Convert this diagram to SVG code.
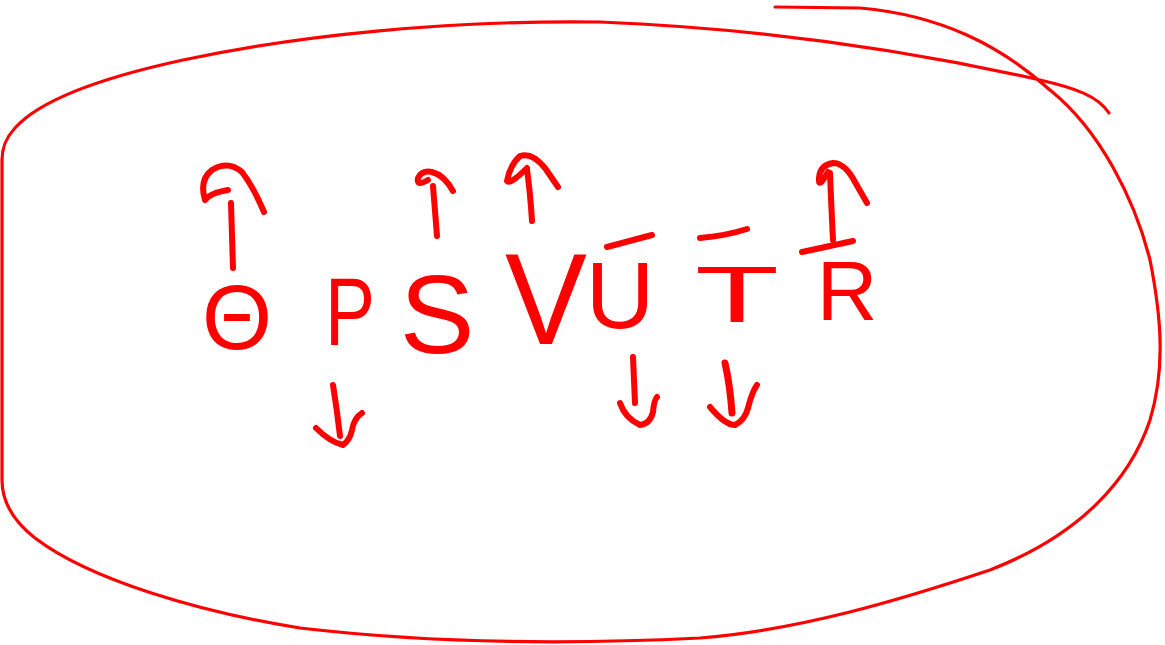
<svg xmlns="http://www.w3.org/2000/svg" width="1165" height="645" viewBox="0 0 1165 645">
  <style>
    .ink { fill: none; stroke: #ff0000; stroke-linecap: round; stroke-linejoin: round; }
    .loop { stroke-width: 3.2; }
    .pen { stroke-width: 6; }
    .letter { fill: #ff0000; font-family: "Liberation Sans", "DejaVu Sans", sans-serif; text-anchor: middle; }
  </style>
  <rect width="1165" height="645" fill="#ffffff"/>

  <!-- enclosing loop -->
  <g id="outline">
    <path class="ink loop" d="M1109,113 C1098,96 1075,88 1040,80 C960,62 800,30 600,22 C450,20 300,35 183,60 C100,78 40,100 15,128 C4,140 2,150 2,160 L2,480 C2,500 12,520 35,538 C90,580 200,612 300,628 C420,642 560,645 700,638 C800,630 900,600 990,570 C1080,535 1130,480 1150,420 C1165,370 1162,320 1150,260 C1135,200 1100,130 1050,90 C1000,45 940,15 860,8 L775,7"/>
  </g>

  <!-- letters with their overbars -->
  <g id="node-theta">
    <text class="letter" x="237" y="349" font-size="90">Θ</text>
  </g>
  <g id="node-p">
    <text class="letter" x="350" y="345" font-size="97" textLength="50" lengthAdjust="spacingAndGlyphs">P</text>
  </g>
  <g id="node-s">
    <text class="letter" x="437" y="353" font-size="112">S</text>
  </g>
  <g id="node-v">
    <text class="letter" transform="translate(546,344) scale(1,1.3)" x="0" y="0" font-size="100" textLength="82" lengthAdjust="spacingAndGlyphs">V</text>
  </g>
  <g id="node-u">
    <text class="letter" x="620" y="328" font-size="95">U</text>
    <path class="ink pen" d="M607,247 L652,235"/>
  </g>
  <g id="node-t">
    <text class="letter" transform="translate(737,322) scale(1,1.15)" x="0" y="0" font-size="70" textLength="84" lengthAdjust="spacingAndGlyphs">T</text>
    <path class="ink pen" d="M700,238 Q725,236 747,229"/>
  </g>
  <g id="node-r">
    <text class="letter" x="847" y="320" font-size="84">R</text>
    <path class="ink pen" d="M802,252 L853,241"/>
  </g>

  <!-- arrows -->
  <g id="connectors">
    <path class="ink pen" d="M231,203 L233,268"/>
    <path class="ink pen" d="M228,190 Q210,193 205,200 Q199,180 212,170 Q228,160 242,172 Q254,188 264,212"/>

    <path class="ink pen" d="M333,385 Q337,410 340,436"/>
    <path class="ink pen" d="M316,428 Q330,442 343,445 Q350,440 352,430 Q354,418 362,413"/>

    <path class="ink pen" d="M437,236 Q435,210 433,186"/>
    <path class="ink pen" d="M428,180 Q416,187 418,178 Q422,170 432,172 Q444,175 453,191"/>

    <path class="ink pen" d="M532,221 Q530,190 527,170"/>
    <path class="ink pen" d="M527,168 Q510,185 507,181 Q510,165 520,156 Q532,152 545,168 L558,187"/>

    <path class="ink pen" d="M633,357 Q634,380 635,403"/>
    <path class="ink pen" d="M620,403 Q625,418 640,425 Q650,424 653,412 Q654,400 657,397"/>

    <path class="ink pen" style="stroke-width:7" d="M725,363 Q730,385 732,413"/>
    <path class="ink pen" d="M710,407 Q725,425 735,425 Q745,420 748,408 Q752,392 757,385"/>

    <path class="ink pen" d="M833,240 Q831,200 830,173"/>
    <path class="ink pen" d="M828,172 Q818,190 819,178 Q820,165 833,163 Q845,163 855,182 L867,203"/>
  </g>
</svg>
